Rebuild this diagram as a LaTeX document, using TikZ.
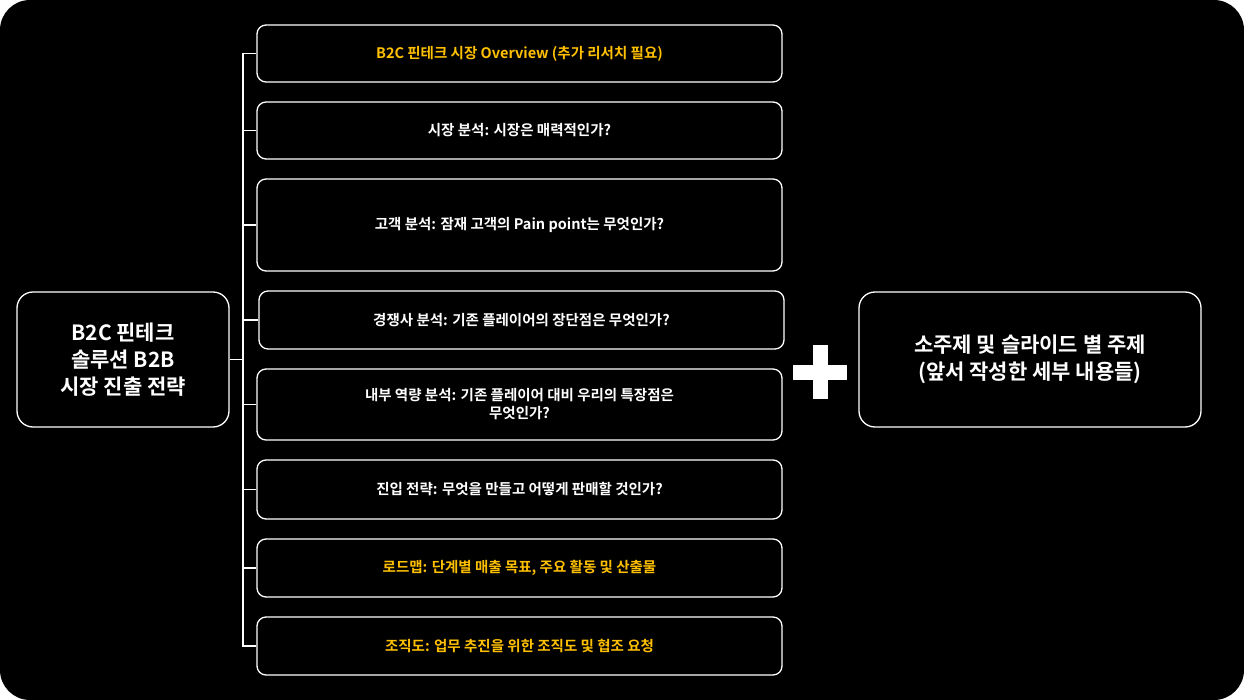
\documentclass[tikz,border=0pt]{standalone}
\usepackage{fontspec}
\newfontfamily\kr{Noto Sans CJK KR}[BoldFont={* Bold}]
\definecolor{gold}{HTML}{FFC000}
\begin{document}
\begin{tikzpicture}[x=1pt,y=-1pt,
  box/.style={draw=white,line width=1.3pt,rounded corners=9pt,text=white,font=\kr\bfseries\fontsize{14.5}{18}\selectfont,align=center,inner sep=0pt},
  big/.style={box,rounded corners=16pt,font=\kr\bfseries\fontsize{21}{27}\selectfont},
  ln/.style={draw=white,line width=1.3pt}]
\useasboundingbox (0,0) rectangle (1244,700);
\fill[white] (0,0) rectangle (1244,700);
\fill[black,rounded corners=30pt] (0,0) rectangle (1244,700);
\node[big,minimum width=212pt,minimum height=135pt] (root) at (123,359.5) {B2C 핀테크\\솔루션 B2B\\시장 진출 전략};
\node[big,minimum width=342pt,minimum height=135pt] (right) at (1030,359.5) {소주제 및 슬라이드 별 주제\\(앞서 작성한 세부 내용들)};
\node[box,minimum width=525pt,minimum height=57pt,text=gold] (b1) at (519.5,53.5) {B2C 핀테크 시장 Overview (추가 리서치 필요)};
\node[box,minimum width=525pt,minimum height=57pt] (b2) at (519.5,130.5) {시장 분석: 시장은 매력적인가?};
\node[box,minimum width=525pt,minimum height=92pt] (b3) at (519.5,225) {고객 분석: 잠재 고객의 Pain point는 무엇인가?};
\node[box,minimum width=525pt,minimum height=58pt] (b4) at (521.5,320) {경쟁사 분석: 기존 플레이어의 장단점은 무엇인가?};
\node[box,minimum width=525pt,minimum height=71pt] (b5) at (519.5,404.5) {내부 역량 분석: 기존 플레이어 대비 우리의 특장점은\\무엇인가?};
\node[box,minimum width=525pt,minimum height=59pt] (b6) at (519.5,489.5) {진입 전략: 무엇을 만들고 어떻게 판매할 것인가?};
\node[box,minimum width=525pt,minimum height=58pt,text=gold] (b7) at (519.5,568) {로드맵: 단계별 매출 목표, 주요 활동 및 산출물};
\node[box,minimum width=525pt,minimum height=58pt,text=gold] (b8) at (519.5,646) {조직도: 업무 추진을 위한 조직도 및 협조 요청};
\coordinate (t) at (243,0);
\draw[ln] (b1.west) -| (t |- b8.west) -- (b8.west);
\foreach \b in {b2,b3,b4,b5,b6,b7} \draw[ln] (t |- \b.west) -- (\b.west);
\draw[ln] (root.east) -- (t |- root.east);
\node[fill=white,minimum width=54pt,minimum height=15pt,inner sep=0pt] (ph) at (820,372) {};
\node[fill=white,minimum width=15pt,minimum height=54pt,inner sep=0pt] (pv) at (820,372) {};
\end{tikzpicture}
\end{document}
